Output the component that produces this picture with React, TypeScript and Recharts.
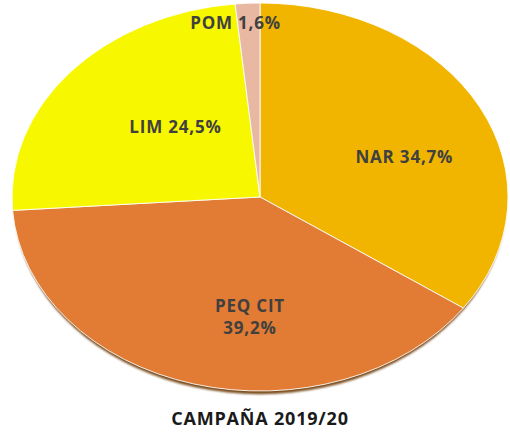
import { PieChart, Pie, Cell } from "recharts";

const categories = ["NAR", "PEQ CIT", "LIM", "POM"];
const shares = [34.7, 39.2, 24.5, 1.6];
const title = "CAMPAÑA 2019/20";

const colors = ["#F1B500", "#E27B33", "#F7F700", "#E9B8A2"];

const data = categories.map((name, i) => ({ name, value: shares[i] }));
const shadowData = [{ name: "shadow", value: 100 }];

// pie is drawn as a circle, then squashed into an ellipse by css
const CX = 260;
const CY = 197;
const RX = 248;
const RY = 194;
const SQUASH = RY / RX;

// excel "best fit" label placement, roughly
const nudge: Record<string, [number, number]> = {
  NAR: [8, 15],
  "PEQ CIT": [31, 4],
  LIM: [33, 7],
  POM: [-12, 19],
};

const fmt = (v: number) => v.toFixed(1).replace(".", ",") + "%";

function renderLabel(props: any) {
  const { cx, cy, midAngle, name, value } = props;
  const rad = (Math.PI / 180) * midAngle;
  const k = value < 5 ? 1 : 0.62;
  const [dx, dy] = nudge[name] ?? [0, 0];
  const x = cx + RX * k * Math.cos(rad) + dx;
  const y = cy - RY * k * Math.sin(rad) + dy;
  const style = {
    fontFamily: "'Open Sans', sans-serif",
    fontWeight: 700,
    fontSize: 17,
    letterSpacing: 0.8,
    fill: "#404040",
  };
  if (name === "PEQ CIT") {
    return (
      <text x={x} y={y} textAnchor="middle" style={style}>
        <tspan x={x} dy={-11} dominantBaseline="central">{name}</tspan>
        <tspan x={x} dy={22} dominantBaseline="central">{fmt(value)}</tspan>
      </text>
    );
  }
  return (
    <text x={x} y={y} textAnchor="middle" dominantBaseline="central" style={style}>
      {`${name} ${fmt(value)}`}
    </text>
  );
}

export default function App() {
  return (
    <div style={{ position: "absolute", left: 0, top: 0, width: 510, height: 433, background: "#fff" }}>
      <style>{`
        .pie3d path.recharts-sector {
          transform-origin: ${CX}px ${CY}px;
          transform: scaleY(${SQUASH});
        }
        .pie3d path.pie-shadow {
          filter: blur(1.2px);
        }
      `}</style>
      <div className="pie3d">
        <PieChart width={510} height={433} margin={{ top: 0, right: 0, bottom: 0, left: 0 }}>
          <Pie
            data={shadowData}
            dataKey="value"
            cx={CX}
            cy={CY + 6}
            outerRadius={RX - 2}
            startAngle={90}
            endAngle={-270}
            stroke="none"
            isAnimationActive={false}
          >
            <Cell className="pie-shadow" fill="#7A4C1C" />
          </Pie>
          <Pie
            data={data}
            dataKey="value"
            nameKey="name"
            cx={CX}
            cy={CY}
            outerRadius={RX}
            startAngle={90}
            endAngle={-270}
            stroke="#fff"
            strokeWidth={1}
            labelLine={false}
            label={renderLabel}
            isAnimationActive={false}
          >
            {data.map((d, i) => (
              <Cell key={d.name} fill={colors[i]} />
            ))}
          </Pie>
        </PieChart>
      </div>
      <div
        style={{
          position: "absolute",
          left: 0,
          width: 520,
          top: 406,
          textAlign: "center",
          fontFamily: "'Open Sans', sans-serif",
          fontWeight: 700,
          fontSize: 18,
          letterSpacing: 0.8,
          color: "#1a1a1a",
        }}
      >
        {title}
      </div>
    </div>
  );
}
